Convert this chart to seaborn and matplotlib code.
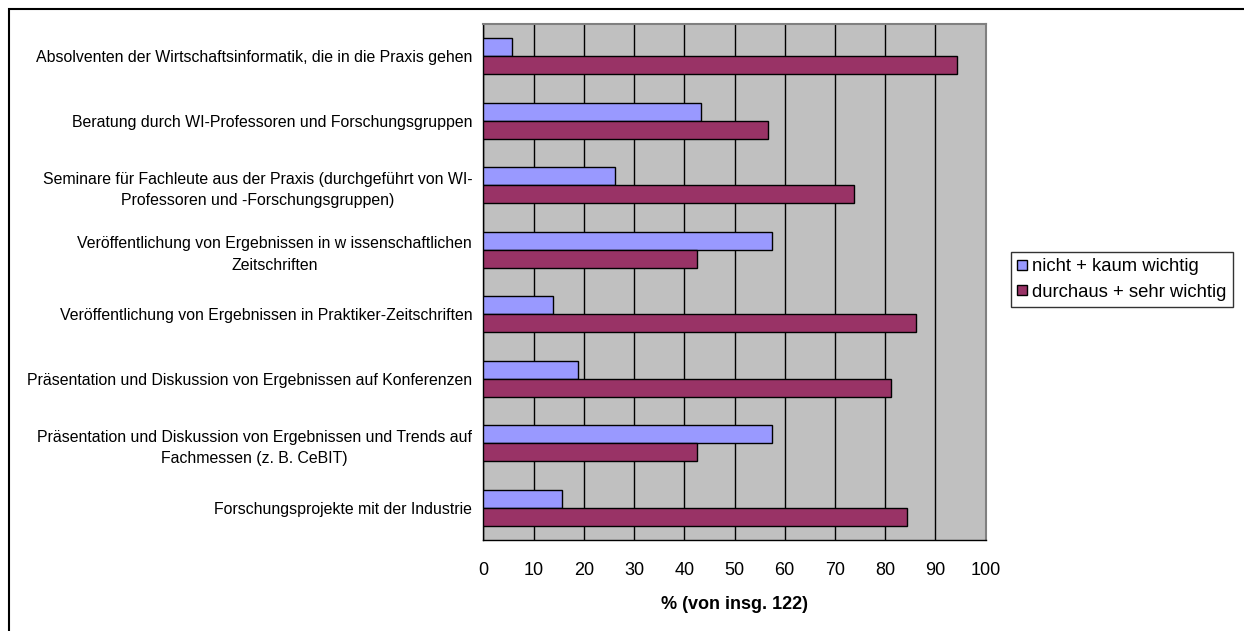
import pandas as pd
import matplotlib
matplotlib.use('agg')
import matplotlib.pyplot as plt
from matplotlib.patches import Rectangle
import seaborn as sns

# Werte in % (von insg. 122 Antworten)
kategorien = [
    "Absolventen der Wirtschaftsinformatik, die in die Praxis gehen",
    "Beratung durch WI-Professoren und Forschungsgruppen",
    "Seminare für Fachleute aus der Praxis (durchgeführt von WI-\nProfessoren und -Forschungsgruppen)",
    "Veröffentlichung von Ergebnissen in w issenschaftlichen\nZeitschriften",
    "Veröffentlichung von Ergebnissen in Praktiker-Zeitschriften",
    "Präsentation und Diskussion von Ergebnissen auf Konferenzen",
    "Präsentation und Diskussion von Ergebnissen und Trends auf\nFachmessen (z. B. CeBIT)",
    "Forschungsprojekte mit der Industrie",
]
nicht_kaum = [5.7, 43.4, 26.2, 57.4, 13.9, 18.9, 57.4, 15.6]
durchaus_sehr = [94.3, 56.6, 73.8, 42.6, 86.1, 81.1, 42.6, 84.4]
serien = ["nicht + kaum wichtig", "durchaus + sehr wichtig"]
farben = ["#9999FF", "#993366"]
x_ticks = list(range(0, 101, 10))

df = pd.DataFrame({
    "Kategorie": kategorien * 2,
    "Wert": nicht_kaum + durchaus_sehr,
    "Bewertung": [serien[0]] * len(kategorien) + [serien[1]] * len(kategorien),
})

sns.set_style("white")
plt.rcParams['font.family'] = ['Liberation Sans', 'DejaVu Sans']
plt.rcParams['text.color'] = 'black'
plt.rcParams['xtick.color'] = 'black'
plt.rcParams['ytick.color'] = 'black'
plt.rcParams['axes.labelcolor'] = 'black'

fig = plt.figure(figsize=(12.44, 6.31), dpi=100)
ax = fig.add_axes([483.3 / 1244, 1 - 540 / 631, 502.4 / 1244, 516 / 631])
ax.set_facecolor("#C0C0C0")

sns.barplot(data=df, x="Wert", y="Kategorie", hue="Bewertung", palette=farben,
            saturation=1, orient="h", width=0.56, edgecolor="black", linewidth=1,
            order=kategorien, hue_order=serien, ax=ax, zorder=3)

ax.set_xlim(0, 100)
ax.set_ylim(len(kategorien) - 0.5, -0.5)
ax.set_xticks(x_ticks)
ax.set_xticklabels([str(t) for t in x_ticks], fontsize=13)
ax.grid(axis="x", color="black", linewidth=1, zorder=1)
ax.set_axisbelow(True)

# Kategorienachse: Striche an den Grenzen, Beschriftung mittig
ax.set_yticks(range(len(kategorien)))
ax.set_yticklabels(kategorien, fontsize=11.4, multialignment="center", linespacing=1.55)
ax.set_yticks([i - 0.5 for i in range(len(kategorien) + 1)], minor=True)
ax.tick_params(axis="y", which="major", length=0, pad=8)
ax.tick_params(axis="y", which="minor", length=5, width=1, color="black", direction="out")
ax.tick_params(axis="x", length=5, width=1, color="black", direction="out", pad=11)

for side in ["left", "bottom"]:
    ax.spines[side].set_color("black")
    ax.spines[side].set_linewidth(1)
for side in ["top", "right"]:
    ax.spines[side].set_color("#808080")
    ax.spines[side].set_linewidth(1.5)

ax.set_ylabel("")
ax.set_xlabel("% (von insg. 122)", fontsize=13, fontweight="bold", labelpad=12)

handles, labels = ax.get_legend_handles_labels()
ax.legend_.remove()
fig.legend(handles, labels, loc="upper left",
           bbox_to_anchor=(1011 / 1244, 1 - 252 / 631), bbox_transform=fig.transFigure,
           fontsize=13.3, frameon=True, fancybox=False, edgecolor="black",
           handlelength=0.5, handleheight=0.5, handletextpad=0.3,
           labelspacing=0.45, borderpad=0.35, borderaxespad=0)
fig.legends[0].get_frame().set_linewidth(1)

# Rahmen um das Diagramm (rechts und unten abgeschnitten)
fig.patches.append(Rectangle((9 / 1244, -0.1), 1.2, 1.1 - 9 / 631, transform=fig.transFigure,
                             fill=False, edgecolor="black", linewidth=1.5, figure=fig))

plt.savefig("out.png", dpi=100)
plt.close()
